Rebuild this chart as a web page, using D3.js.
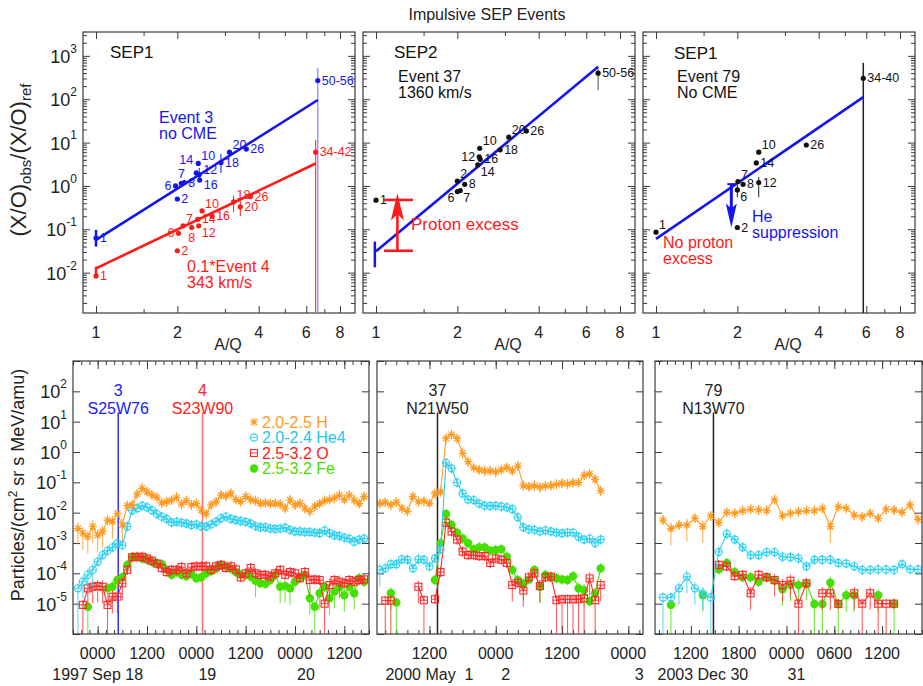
<!DOCTYPE html>
<html><head><meta charset="utf-8">
<script src="https://cdn.jsdelivr.net/npm/d3@7"></script>
<style>
body{margin:0;background:#fff;}
svg text{font-family:"Liberation Sans",Arial,Helvetica,sans-serif;}
</style>
</head><body>
<script>
// ================= DATA =================
// ---- top row: abundance enhancement vs A/Q ----
const aqTicks = [1, 2, 4, 6, 8];
const aqMinorTicks = [1.5, 3, 5, 7];
const ratioExponents = [-2, -1, 0, 1, 2, 3];

// Panel 1: Event 3 (blue)
const ev3Labels = ["1","2","6","7","8","14","10","12","16","18","20","26","50-56"];
const ev3AQ     = [1.0, 2.0, 1.97, 2.07, 2.12, 2.35, 2.39, 2.41, 2.42, 2.9, 3.12, 3.6, 6.62];
const ev3Ratio  = [0.063, 0.5, 1.0, 1.15, 1.2, 2.0, 3.3, 1.8, 1.37, 3.45, 6.0, 7.1, 270];
const ev3Place  = ["r","r","l","u","r","luuu","ru","rup","rdn","r","ru","r","r"];
const ev3FitAQ = [1.0, 6.62], ev3FitRatio = [0.057, 96];
// Panel 1: 0.1*Event 4 (red)
const ev4Labels = ["1","2","6","7","8","12","14","10","16","18","20","26","34-42"];
const ev4AQ     = [1.0, 2.0, 2.02, 2.1, 2.26, 2.4, 2.38, 2.47, 2.69, 3.23, 3.42, 3.73, 6.5];
const ev4Ratio  = [0.0084, 0.032, 0.081, 0.12, 0.11, 0.12, 0.17, 0.265, 0.2, 0.43, 0.33, 0.57, 6.0];
const ev4Place  = ["r","r","l","ru","d","rd","r","ru","r","ru","r","r","r"];
const ev4FitAQ = [1.0, 6.5], ev4FitRatio = [0.0126, 3.3];
// Panel 2: Event 37 (black)
const ev37Labels = ["1","2","6","7","8","14","16","12","10","18","20","26","50-56"];
const ev37AQ     = [1.0, 2.0, 2.0, 2.05, 2.13, 2.38, 2.43, 2.41, 2.42, 2.88, 3.1, 3.6, 6.64];
const ev37Ratio  = [0.47, 1.3, 0.74, 0.78, 1.09, 3.05, 4.1, 4.7, 7.4, 6.8, 13.3, 18.6, 398];
const ev37Place  = ["r","ru","ld","rd","r","rd","r","l","ru","r","ru","r","r"];
const ev37FitAQ = [1.0, 6.64], ev37FitRatio = [0.031, 562];
// Panel 3: Event 79 (black)
const ev79Labels = ["1","2","6","7","8","12","14","10","26","34-40"];
const ev79AQ     = [1.0, 2.0, 2.0, 2.01, 2.1, 2.4, 2.35, 2.4, 3.6, 5.85];
const ev79Ratio  = [0.086, 0.11, 0.81, 1.26, 1.09, 1.2, 3.4, 6.0, 8.8, 304];
const ev79Place  = ["ru","r","rd","ru","r","r","r","ru","r","r"];
const ev79FitAQ = [1.0, 5.85], ev79FitRatio = [0.06, 112];

// ---- bottom row: intensity time profiles ----
const legendNames = ["2.0-2.5 H", "2.0-2.4 He4", "2.5-3.2 O", "2.5-3.2 Fe"];
const logExponents = [2, 1, 0, -1, -2, -3, -4, -5];

// Panel 1: 1997 Sep 17 19:12 onward, 72-min samples
const p1H = [3.0e-3,2.1e-3,1.6e-3,3.5e-3,1.8e-3,2.4e-3,5.7e-3,5.0e-3,9.5e-3,3.9e-3,
 1.7e-2,1.8e-2,4.1e-2,6.3e-2,4.9e-2,3.8e-2,3.2e-2,2.1e-2,2.3e-2,2.6e-2,
 3.2e-2,1.9e-2,2.5e-2,1.8e-2,2.0e-2,1.2e-2,9.1e-3,1.8e-2,2.3e-2,3.8e-2,
 3.5e-2,4.3e-2,2.7e-2,2.3e-2,3.4e-2,2.7e-2,2.5e-2,2.0e-2,2.1e-2,2.0e-2,
 2.0e-2,1.9e-2,1.4e-2,2.6e-2,1.8e-2,2.0e-2,1.4e-2,1.1e-2,1.6e-2,2.0e-2,
 2.5e-2,2.7e-2,3.0e-2,3.8e-2,2.7e-2,3.8e-2,2.6e-2,2.0e-2,3.4e-2];
const p1He = [3.2e-5,5.3e-5,8.9e-5,1.3e-4,2.4e-4,4.0e-4,5.6e-4,7.2e-4,9.8e-4,8.5e-4,
 3.5e-3,1.2e-2,1.4e-2,1.7e-2,1.5e-2,1.2e-2,9.1e-3,7.4e-3,6.2e-3,4.7e-3,
 5.0e-3,4.7e-3,4.4e-3,3.9e-3,4.1e-3,3.5e-3,3.5e-3,4.1e-3,5.0e-3,6.5e-3,
 7.4e-3,6.2e-3,5.7e-3,5.3e-3,5.0e-3,4.4e-3,3.6e-3,3.3e-3,3.3e-3,3.0e-3,
 2.9e-3,3.0e-3,3.2e-3,2.7e-3,2.4e-3,2.4e-3,2.3e-3,2.3e-3,2.2e-3,2.1e-3,
 2.6e-3,2.1e-3,1.8e-3,1.7e-3,1.5e-3,1.4e-3,1.1e-3,1.3e-3,1.4e-3];
const p1O = [null,9.1e-6,3.2e-5,3.6e-5,3.8e-5,3.6e-5,9.1e-6,1.7e-5,1.7e-5,4.7e-5,
 1.3e-4,3.4e-4,3.5e-4,3.5e-4,3.1e-4,2.6e-4,2.1e-4,1.5e-4,1.1e-4,1.3e-4,
 1.3e-4,1.6e-4,1.0e-4,1.6e-4,1.7e-4,1.7e-4,1.7e-4,1.3e-4,1.7e-4,1.9e-4,
 1.5e-4,1.7e-4,1.35e-4,7.4e-5,1.0e-4,1.5e-4,1.0e-4,8.9e-5,8.9e-5,7.8e-5,
 1.0e-4,1.3e-4,8.9e-5,1.1e-4,1.0e-4,6.9e-5,1.1e-4,6.0e-5,6.3e-5,6.0e-5,
 1.0e-5,4.1e-5,6.0e-5,5.3e-5,4.7e-5,6.0e-5,5.3e-5,6.0e-5,6.3e-5];
const p1Fe = [null,null,7.9e-6,null,null,null,3.2e-5,3.6e-5,6.0e-5,7.4e-5,
 1.9e-4,3.4e-4,3.5e-4,3.1e-4,2.8e-4,2.4e-4,2.1e-4,2.0e-4,1.3e-4,8.9e-5,
 1.1e-4,8.9e-5,8.1e-5,9.5e-5,6.9e-5,7.4e-5,1.0e-4,1.2e-4,1.45e-4,1.9e-4,
 1.7e-4,1.45e-4,1.1e-4,8.9e-5,8.9e-5,7.8e-5,5.7e-5,4.7e-5,4.5e-5,6.0e-5,
 8.9e-5,3.6e-5,3.8e-5,3.2e-5,5.3e-5,7.4e-5,8.9e-5,1.5e-5,7.9e-6,2.2e-5,
 3.6e-5,1.5e-5,2.5e-5,3.5e-5,1.9e-5,3.6e-5,2.2e-5,6.9e-5,5.3e-5];
const p1Floor = {H:[], He:[0], O:[1,6,50], Fe:[2,48]};
const p1Long  = {H:[0,1,2,3,4,5,7,9], He:[1,2,3], O:[2,3,4,5,7,8,9,47,51,53], Fe:[6,7,36,41,42,43,47,49,51,52,54,56]};

// Panel 2: 2000 May 1 03:00 onward, hourly
const p2H = [2.0e-2,2.2e-2,1.8e-2,2.2e-2,1.4e-2,1.1e-2,3.4e-2,2.3e-2,2.4e-2,2.0e-2,
 4.3e-2,4.9e-2,2.8,3.8,2.8,0.9,0.48,0.30,0.26,0.24,
 0.24,0.22,0.26,0.31,0.24,0.35,7.8e-2,7.2e-2,7.8e-2,6.8e-2,
 7.6e-2,7.8e-2,8.6e-2,9.3e-2,8.9e-2,9.8e-2,9.8e-2,0.17,0.19,0.126,5.3e-2];
const p2He = [1.3e-4,1.46e-4,2.0e-4,2.0e-4,2.9e-4,2.8e-4,1.46e-4,2.9e-4,2.8e-4,1.7e-4,
 3.1e-4,6.2e-4,0.44,0.29,9.8e-2,4.3e-2,2.7e-2,2.6e-2,2.0e-2,1.7e-2,
 1.66e-2,1.7e-2,1.6e-2,1.5e-2,1.3e-2,7.0e-3,3.3e-3,2.8e-3,2.7e-3,2.4e-3,
 2.6e-3,2.4e-3,2.2e-3,2.1e-3,2.2e-3,2.2e-3,1.6e-3,1.3e-3,1.4e-3,1.0e-3,1.3e-3];
const p2O = [null,1.26e-5,1.26e-5,null,null,null,null,3.6e-5,1.3e-5,null,
 1.4e-5,1.1e-4,4.7e-3,2.4e-3,1.3e-3,5.2e-4,4.0e-4,4.0e-4,3.7e-4,3.7e-4,
 2.2e-4,3.1e-4,2.8e-4,2.2e-4,4.1e-5,4.9e-5,2.7e-5,7.4e-5,1.0e-4,3.8e-5,
 7.4e-5,7.8e-5,1.3e-5,1.4e-5,1.4e-5,1.4e-5,1.4e-5,1.5e-5,6.8e-5,1.3e-5,4.1e-5];
const p2Fe = [null,null,2.2e-5,1.1e-5,null,null,null,null,null,null,
 6.0e-5,9.8e-4,9.1e-3,3.9e-3,2.2e-3,1.4e-3,9.8e-4,6.2e-4,7.2e-4,7.2e-4,
 5.6e-4,5.9e-4,6.2e-4,3.5e-4,1.3e-4,6.0e-5,4.5e-5,6.3e-5,1.3e-4,3.6e-5,
 8.9e-5,7.4e-5,6.9e-5,6.3e-5,6.0e-5,8.1e-5,3.2e-5,2.8e-5,1.2e-5,2.2e-5,1.46e-4];
const p2Floor = {H:[], He:[], O:[1,2,8,32,33,34,35,36,37,39], Fe:[3]};
const p2Long  = {H:[], He:[0], O:[7,24,26,29,38,40], Fe:[2,26,29,36,37]};

// Panel 3: 2003 Dec 30 08:30 onward, hourly
const p3H = [5.7e-3,3.0e-3,3.9e-3,3.9e-3,6.5e-3,3.5e-3,7.8e-3,4.7e-3,1.03e-2,9.5e-3,
 1.17e-2,1.29e-2,1.23e-2,1.17e-2,2.7e-2,7.8e-3,9.5e-3,1.07e-2,1.17e-2,1.17e-2,
 1.39e-2,3.5e-3,1.58e-2,1.39e-2,8.3e-3,7.4e-3,9.5e-3,6.5e-3,1.29e-2,1.23e-2,
 1.03e-2,1.8e-2,6.0e-3];
const p3He = [1.6e-5,1.6e-5,3.2e-5,7.8e-5,3.2e-5,2.2e-5,1.6e-5,5.1e-4,2.0e-3,1.3e-3,
 7.2e-4,4.0e-4,4.0e-4,5.0e-4,5.0e-4,3.5e-4,3.4e-4,3.1e-4,1.7e-4,2.8e-4,
 2.8e-4,2.8e-4,2.2e-4,2.1e-4,1.7e-4,1.3e-4,1.3e-4,1.35e-4,1.35e-4,1.3e-4,
 2.0e-4,1.35e-4,1.35e-4];
const p3O = [null,null,null,null,null,null,null,1.9e-4,1.7e-4,8.1e-5,
 8.9e-5,2.2e-5,8.9e-5,7.4e-5,6.0e-5,4.1e-5,5.7e-5,1.0e-5,4.7e-5,null,
 2.2e-5,2.2e-5,9.8e-6,null,2.2e-5,1.0e-5,2.2e-5,1.0e-5,1.0e-5,1.0e-5,
 null,null,null];
const p3Fe = [null,9.1e-6,null,null,null,1.9e-5,null,1.35e-4,2.2e-4,1.1e-4,
 7.4e-5,7.4e-5,5.3e-5,7.4e-5,5.7e-5,3.0e-5,4.1e-5,4.1e-5,4.5e-5,9.8e-6,
 9.8e-6,4.9e-5,9.8e-6,1.9e-5,1.9e-5,null,null,1.9e-5,null,9.8e-6,
 null,null,null];
const p3Floor = {H:[], He:[0,6], O:[17,25,27,28], Fe:[1,19,20,22,29]};
const p3Long  = {H:[1,3,5,21], He:[2,3,4,5], O:[11,14,15,16,20,21,24,26], Fe:[5,15,16,17,18,21,23,24,27]};

const p1Events = [{t:Date.UTC(1997,8,18,5,0), num:"3", loc:"S25W76", line:"#3030ff", txt:"#2020ff"},
                  {t:Date.UTC(1997,8,19,1,30), num:"4", loc:"S23W90", line:"#ff7070", txt:"#ff2020"}];
const p2Events = [{t:Date.UTC(2000,4,1,13,27), num:"37", loc:"N21W50", line:"#222", txt:"#222"}];
const p3Events = [{t:Date.UTC(2003,11,30,14,50), num:"79", loc:"N13W70", line:"#222", txt:"#222"}];

const p1Dates = [[Date.UTC(1997,8,18), "1997 Sep 18"], [Date.UTC(1997,8,19), "19"], [Date.UTC(1997,8,20), "20"]];
const p2Dates = [[Date.UTC(2000,4,1,12), "2000 May  1"], [Date.UTC(2000,4,2), "2"], [Date.UTC(2000,4,3), "3"]];
const p3Dates = [[Date.UTC(2003,11,30,12), "2003 Dec 30"], [Date.UTC(2003,11,31), "31"]];

// ================= DRAWING =================
const COL = {blue:"#1414f0", red:"#ff1a1a", H:"#ff9a22", He:"#2cd0ef", O:"#ff2a2a", Fe:"#44e000", frame:"#3a3a3a"};
const svg = d3.select("body").append("svg").attr("width", 923).attr("height", 686);

svg.append("text").attr("x", 487).attr("y", 14).attr("text-anchor","middle")
  .attr("dominant-baseline","central").attr("font-size", 16).attr("fill","#222").text("Impulsive SEP Events");

function supLabel(sel, base, exp, fs, supfs){
  sel.text(base);
  sel.append("tspan").attr("dy", -fs*0.45).attr("font-size", supfs).text(exp);
}

// ---------- top panels ----------
const TOP = {y:32, w:272, h:281, lefts:[83, 363, 643]};
const aqDomain = [0.895, 9.09];
const ratioDomain = [Math.pow(10,-2.93), Math.pow(10,3.55)];

function minorLogTicks(domain){
  const out = [];
  for (let e = -4; e <= 4; e++) for (let k = 2; k <= 9; k++) {
    const v = k * Math.pow(10, e);
    if (v > domain[0] && v < domain[1]) out.push(v);
  }
  return out;
}

function styleAxis(g){
  g.select(".domain").remove();
  g.selectAll(".tick line").attr("stroke", COL.frame);
}

function topPanel(i){
  const g = svg.append("g").attr("transform", `translate(${TOP.lefts[i]},${TOP.y})`);
  const x = d3.scaleLog().domain(aqDomain).range([0, TOP.w]);
  const y = d3.scaleLog().domain(ratioDomain).range([TOP.h, 0]);
  const majorY = ratioExponents.map(e => Math.pow(10, e));
  const minorY = minorLogTicks(ratioDomain);
  const ax = [
    [d3.axisLeft(y).tickValues(majorY).tickSize(-7), 0, 0],
    [d3.axisLeft(y).tickValues(minorY).tickSize(-4), 0, 0],
    [d3.axisRight(y).tickValues(majorY).tickSize(-7), TOP.w, 0],
    [d3.axisRight(y).tickValues(minorY).tickSize(-4), TOP.w, 0],
    [d3.axisBottom(x).tickValues(aqTicks).tickSize(-7), 0, TOP.h],
    [d3.axisBottom(x).tickValues(aqMinorTicks).tickSize(-4), 0, TOP.h],
    [d3.axisTop(x).tickValues(aqTicks).tickSize(-7), 0, 0],
    [d3.axisTop(x).tickValues(aqMinorTicks).tickSize(-4), 0, 0]
  ];
  ax.forEach(([a, tx, ty]) => {
    const ag = g.append("g").attr("transform", `translate(${tx},${ty})`).call(a.tickFormat(""));
    styleAxis(ag);
  });
  g.append("rect").attr("width", TOP.w).attr("height", TOP.h).attr("fill","none")
    .attr("stroke", COL.frame).attr("stroke-width", 1.2);
  g.selectAll(".xl").data(aqTicks).enter().append("text")
    .attr("x", d => x(d)).attr("y", TOP.h + 19).attr("text-anchor","middle")
    .attr("dominant-baseline","central").attr("font-size", 16).attr("fill","#222").text(d => d);
  g.append("text").attr("x", TOP.w/2 + 9).attr("y", TOP.h + 31).attr("text-anchor","middle")
    .attr("dominant-baseline","central").attr("font-size", 16).attr("fill","#222").text("A/Q");
  if (i === 0) {
    ratioExponents.forEach(e => {
      const t = g.append("text").attr("x", -6).attr("y", y(Math.pow(10, e)) + 1)
        .attr("text-anchor","end").attr("dominant-baseline","central")
        .attr("font-size", 18).attr("fill","#222");
      supLabel(t, "10", String(e), 18, 12);
    });
  }
  return {g, x, y};
}

const PLACE = {r:[4,0,"start"], l:[-4,0,"end"], ru:[3,-7,"start"], rd:[3,7,"start"],
               ld:[-3,6,"end"], lu:[-3,-6,"end"], luuu:[-3,-13,"end"], u:[0,-9,"middle"],
               d:[0,10,"middle"], rup:[4,-5,"start"], rdn:[4,5,"start"]};
function placeLabel(g, px, py, text, code, color){
  const off = PLACE[code];
  g.append("text").attr("x", px + off[0]).attr("y", py + off[1]).attr("text-anchor", off[2])
    .attr("dominant-baseline","central").attr("font-size", 12.5).attr("fill", color).text(text);
}

function drawTopSeries(P, aq, ratio, labels, place, fitAQ, fitRatio, lineColor, ptColor){
  const {g, x, y} = P;
  const fit = d3.line().x(d => x(d[0])).y(d => y(d[1]));
  g.append("path").attr("d", fit(fitAQ.map((a, k) => [a, fitRatio[k]])))
    .attr("stroke", lineColor).attr("stroke-width", 2.6).attr("fill","none");
  aq.forEach((a, k) => {
    g.append("circle").attr("cx", x(a)).attr("cy", y(ratio[k])).attr("r", 2.6).attr("fill", ptColor);
    placeLabel(g, x(a), y(ratio[k]), labels[k], place[k], ptColor);
  });
}

function vbar(P, aq, lo, hi, color, width){
  const {g, x, y} = P;
  g.append("line").attr("x1", x(aq)).attr("x2", x(aq))
    .attr("y1", lo === null ? TOP.h : y(lo)).attr("y2", y(hi))
    .attr("stroke", color).attr("stroke-width", width);
}

function note(g, px, py, lines, color, fs){
  lines.forEach((s, k) => g.append("text").attr("x", px).attr("y", py + k*16)
    .attr("dominant-baseline","central").attr("font-size", fs).attr("fill", color).text(s));
}

const T1 = topPanel(0), T2 = topPanel(1), T3 = topPanel(2);

// Panel 1
vbar(T1, ev3AQ[12], null, 525, "#8a8aff", 1.3);
vbar(T1, ev4AQ[12], null, 11.5, "#ff4a4a", 1.3);
vbar(T1, ev3AQ[0], 0.04, 0.097, COL.blue, 2.5);
vbar(T1, ev4AQ[0], 0.0075, 0.0138, COL.red, 2.5);
vbar(T1, ev3AQ[9], 2.0, 5.5, COL.blue, 1);
vbar(T1, ev3AQ[7], 1.2, 2.6, COL.blue, 1);
vbar(T1, ev4AQ[9], 0.25, 0.6, COL.red, 1);
vbar(T1, ev4AQ[10], 0.2, 0.45, COL.red, 1);
drawTopSeries(T1, ev3AQ, ev3Ratio, ev3Labels, ev3Place, ev3FitAQ, ev3FitRatio, COL.blue, COL.blue);
drawTopSeries(T1, ev4AQ, ev4Ratio, ev4Labels, ev4Place, ev4FitAQ, ev4FitRatio, COL.red, COL.red);
note(T1.g, 27, 20, ["SEP1"], "#111", 17);
note(T1.g, 76, 85.5, ["Event 3", "no CME"], COL.blue, 16);
note(T1.g, 104, 234.5, ["0.1*Event 4", "343 km/s"], COL.red, 16);

// Panel 2
vbar(T2, ev37AQ[12], 163, 500, "#777", 1.3);
vbar(T2, 0.99, 0.0133, 0.052, COL.blue, 2.5);
drawTopSeries(T2, ev37AQ, ev37Ratio, ev37Labels, ev37Place, ev37FitAQ, ev37FitRatio, COL.blue, "#111");
note(T2.g, 31, 20, ["SEP2"], "#111", 17);
note(T2.g, 35, 44.5, ["Event 37", "1360 km/s"], "#111", 16);
note(T2.g, 48, 192, ["Proton excess"], COL.red, 17);
const pxAQ = 1.2, pxLo = 0.032, pxHi = 0.476, pxTip = 0.68, pxCap = [1.07, 1.37];
[pxLo, pxHi].forEach(v => T2.g.append("line").attr("x1", T2.x(pxCap[0])).attr("x2", T2.x(pxCap[1]))
  .attr("y1", T2.y(v)).attr("y2", T2.y(v)).attr("stroke", COL.red).attr("stroke-width", 2.6));
T2.g.append("line").attr("x1", T2.x(pxAQ)).attr("x2", T2.x(pxAQ)).attr("y1", T2.y(pxLo)).attr("y2", T2.y(pxTip) + 8)
  .attr("stroke", COL.red).attr("stroke-width", 2.6);
T2.g.append("path").attr("d", `M${T2.x(pxAQ)},${T2.y(pxTip)} l-6.5,27 l6.5,-6 l6.5,6 z`).attr("fill", COL.red);

// Panel 3
vbar(T3, ev79AQ[9], null, 690, "#222", 1.5);
vbar(T3, ev79AQ[5], 0.55, 1.6, "#222", 1);
vbar(T3, ev79AQ[2], 0.55, 1.05, "#222", 1);
drawTopSeries(T3, ev79AQ, ev79Ratio, ev79Labels, ev79Place, ev79FitAQ, ev79FitRatio, COL.blue, "#111");
note(T3.g, 31, 21, ["SEP1"], "#111", 17);
note(T3.g, 34, 44.5, ["Event 79", "No CME"], "#111", 16);
note(T3.g, 109, 184.5, ["He", "suppression"], COL.blue, 16);
note(T3.g, 20, 210.5, ["No proton", "excess"], COL.red, 16);
const heAQ = 1.9, heFrom = 1.1, heTip = 0.11;
T3.g.append("line").attr("x1", T3.x(heAQ)).attr("x2", T3.x(heAQ)).attr("y1", T3.y(heFrom)).attr("y2", T3.y(heTip) - 10)
  .attr("stroke", COL.blue).attr("stroke-width", 3);
T3.g.append("line").attr("x1", T3.x(heAQ) - 4).attr("x2", T3.x(heAQ) + 4).attr("y1", T3.y(heFrom)).attr("y2", T3.y(heFrom))
  .attr("stroke", COL.blue).attr("stroke-width", 2);
T3.g.append("path").attr("d", `M${T3.x(heAQ)},${T3.y(heTip)} l-5.5,-24 l5.5,5 l5.5,-5 z`).attr("fill", COL.blue);

// y-axis title (top)
const yt = svg.append("text").attr("transform", "translate(26,160) rotate(-90)").attr("text-anchor","middle")
  .attr("font-size", 22).attr("fill","#222");
yt.append("tspan").text("(X/O)");
yt.append("tspan").attr("dy", 5).attr("font-size", 15).text("obs");
yt.append("tspan").attr("dy", -5).text("/(X/O)");
yt.append("tspan").attr("dy", 5).attr("font-size", 15).text("ref");

// ---------- bottom panels ----------
const BOT = {top:361, bottom:634};
const yDomain = [1e-6, 1e3];

const bottomCfg = [
  {left:73, right:369, domain:[Date.UTC(1997,8,17,18,0), Date.UTC(1997,8,20,18,0)], major:12, minor:2,
   start:Date.UTC(1997,8,17,19,12), stepMin:72, data:{H:p1H, He:p1He, O:p1O, Fe:p1Fe}, floor:p1Floor, long:p1Long,
   events:p1Events, dates:p1Dates, dateDx:[0,11,11]},
  {left:377, right:643, domain:[Date.UTC(2000,4,1,2,30), Date.UTC(2000,4,3,2,40)], major:12, minor:2,
   start:Date.UTC(2000,4,1,3,0), stepMin:60, data:{H:p2H, He:p2He, O:p2O, Fe:p2Fe}, floor:p2Floor, long:p2Long,
   events:p2Events, dates:p2Dates, dateDx:[0,10,11]},
  {left:655, right:922, domain:[Date.UTC(2003,11,30,7,30), Date.UTC(2003,11,31,17,0)], major:6, minor:1,
   start:Date.UTC(2003,11,30,8,30), stepMin:60, data:{H:p3H, He:p3He, O:p3O, Fe:p3Fe}, floor:p3Floor, long:p3Long,
   events:p3Events, dates:p3Dates, dateDx:[12,10]}
];

function marker(g, sym, px, py, color){
  if (sym === "H") {
    const r = 4;
    g.append("path").attr("d", `M${px-r},${py}h${2*r}M${px},${py-r}v${2*r}M${px-r*0.75},${py-r*0.75}l${1.5*r},${1.5*r}M${px-r*0.75},${py+r*0.75}l${1.5*r},${-1.5*r}`)
      .attr("stroke", color).attr("stroke-width", 1.2).attr("fill","none");
  } else if (sym === "He") {
    g.append("circle").attr("cx", px).attr("cy", py).attr("r", 3.6).attr("fill","none").attr("stroke", color).attr("stroke-width", 1.1);
    g.append("line").attr("x1", px-3.6).attr("x2", px+3.6).attr("y1", py).attr("y2", py).attr("stroke", color).attr("stroke-width", 0.9);
  } else if (sym === "O") {
    g.append("rect").attr("x", px-3.5).attr("y", py-3.5).attr("width", 7).attr("height", 7).attr("fill","none").attr("stroke", color).attr("stroke-width", 1.1);
    g.append("line").attr("x1", px-3.5).attr("x2", px+3.5).attr("y1", py).attr("y2", py).attr("stroke", color).attr("stroke-width", 0.9);
  } else {
    g.append("circle").attr("cx", px).attr("cy", py).attr("r", 4.2).attr("fill", color);
  }
}

const order = ["H", "He", "O", "Fe"];

bottomCfg.forEach((c, pi) => {
  const w = c.right - c.left, h = BOT.bottom - BOT.top;
  const g = svg.append("g").attr("transform", `translate(${c.left},${BOT.top})`);
  const x = d3.scaleUtc().domain(c.domain).range([0, w]);
  const y = d3.scaleLog().domain(yDomain).range([h, 0]);
  const clipId = "clip" + pi;
  g.append("clipPath").attr("id", clipId).append("rect").attr("width", w).attr("height", h);

  const majorY = d3.range(-6, 4).map(e => Math.pow(10, e));
  const axes = [
    [d3.axisLeft(y).tickValues(majorY).tickSize(-7), 0, 0],
    [d3.axisRight(y).tickValues(majorY).tickSize(-7), w, 0],
    [d3.axisBottom(x).ticks(d3.utcHour.every(c.major)).tickSize(-8), 0, h],
    [d3.axisBottom(x).ticks(d3.utcHour.every(c.minor)).tickSize(-4), 0, h],
    [d3.axisTop(x).ticks(d3.utcHour.every(c.major)).tickSize(-8), 0, 0],
    [d3.axisTop(x).ticks(d3.utcHour.every(c.minor)).tickSize(-4), 0, 0]
  ];
  axes.forEach(([a, tx, ty]) => {
    const ag = g.append("g").attr("transform", `translate(${tx},${ty})`).call(a.tickFormat(""));
    styleAxis(ag);
  });

  const majors = x.ticks(d3.utcHour.every(c.major));
  const fmt = d3.utcFormat("%H%M");
  g.selectAll(".tl").data(majors).enter().append("text").attr("x", d => x(d)).attr("y", h + 19)
    .attr("text-anchor","middle").attr("dominant-baseline","central").attr("font-size", 16).attr("fill","#222")
    .text(d => fmt(d));
  c.dates.forEach((d, k) => g.append("text").attr("x", x(d[0]) + c.dateDx[k]).attr("y", h + 40)
    .attr("text-anchor","middle").attr("dominant-baseline","central").attr("font-size", 16).attr("fill","#222")
    .style("white-space","pre").text(d[1]));

  if (pi === 0) {
    logExponents.forEach(e => {
      const t = g.append("text").attr("x", -6).attr("y", y(Math.pow(10, e)) + 1).attr("text-anchor","end")
        .attr("dominant-baseline","central").attr("font-size", 18).attr("fill","#222");
      supLabel(t, "10", String(e), 18, 12);
    });
  }

  c.events.forEach(ev => {
    g.append("line").attr("x1", x(ev.t)).attr("x2", x(ev.t)).attr("y1", y(20)).attr("y2", h)
      .attr("stroke", ev.line).attr("stroke-width", 1.5);
    g.append("text").attr("x", x(ev.t)).attr("y", y(20) - 22).attr("text-anchor","middle")
      .attr("dominant-baseline","central").attr("font-size", 16).attr("fill", ev.txt).text(ev.num);
    g.append("text").attr("x", x(ev.t)).attr("y", y(20) - 4).attr("text-anchor","middle")
      .attr("dominant-baseline","central").attr("font-size", 16).attr("fill", ev.txt).text(ev.loc);
  });

  const dg = g.append("g").attr("clip-path", `url(#${clipId})`);
  const times = c.data.H.map((_, i) => new Date(c.start + i * c.stepMin * 60000));
  order.slice().reverse().forEach(key => {
    const vals = c.data[key];
    const color = COL[key];
    const pts = vals.map((v, i) => ({t: times[i], v, i}));
    const line = d3.line().defined(d => d.v != null).x(d => x(d.t)).y(d => y(d.v));
    dg.append("path").attr("d", line(pts)).attr("fill","none").attr("stroke", color).attr("stroke-width", 1.1);
    pts.filter(d => d.v != null).forEach(d => {
      const px = x(d.t), py = y(d.v);
      const toFloor = c.floor[key].includes(d.i);
      const isLong = c.long[key].includes(d.i);
      const lo = toFloor ? h : (isLong ? y(d.v / 3.5) : py + 5);
      const hi = isLong ? y(d.v * 1.6) : py - 5;
      dg.append("line").attr("x1", px).attr("x2", px).attr("y1", hi).attr("y2", lo)
        .attr("stroke", color).attr("stroke-width", 1.1).attr("opacity", (toFloor || isLong) ? 0.75 : 1);
      marker(dg, key, px, py, color);
    });
  });

  g.append("rect").attr("width", w).attr("height", h).attr("fill","none").attr("stroke", COL.frame).attr("stroke-width", 1.2);

  if (pi === 0) {
    const legTxt = {H:"#ff9a22", He:"#22c8ee", O:"#ff2020", Fe:"#44dd00"};
    order.forEach((key, k) => {
      const ly = 61 + k * 15.5;
      marker(g, key, 181, ly, COL[key]);
      g.append("text").attr("x", 189).attr("y", ly).attr("dominant-baseline","central").attr("font-size", 16)
        .attr("fill", legTxt[key]).text(legendNames[k]);
    });
  }
});

// y-axis title (bottom)
const yb = svg.append("text").attr("transform", "translate(24,485) rotate(-90)").attr("text-anchor","middle")
  .attr("font-size", 18).attr("fill","#222");
yb.append("tspan").text("Particles/(cm");
yb.append("tspan").attr("dy", -7).attr("font-size", 12).text("2");
yb.append("tspan").attr("dy", 7).text(" sr s MeV/amu)");
</script>
</body></html>
